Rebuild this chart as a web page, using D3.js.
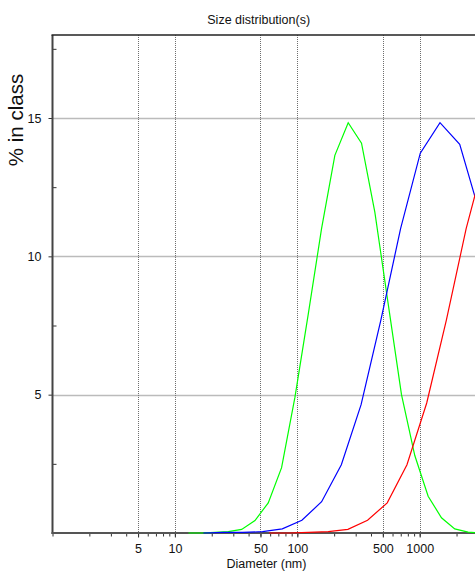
<!DOCTYPE html>
<html>
<head>
<meta charset="utf-8">
<script src="https://cdn.jsdelivr.net/npm/d3@7"></script>
<style>
  html, body { margin: 0; padding: 0; background: #fff; }
  svg { display: block; font-family: Arial, "Liberation Sans", sans-serif; }
</style>
</head>
<body>
<svg id="chart" width="475" height="571"></svg>
<script>
// Size classes (nm) and % in class for each measured distribution
const greenSize = [12.9, 16.5, 21.2, 27.3, 35.1, 45.1, 57.9, 74.4, 95.6, 122.8, 157.8, 202.7, 260.5, 334.7, 430, 552, 710, 912, 1172, 1506, 1934, 2485, 3193];
const greenPct  = [0, 0, 0.02, 0.05, 0.13, 0.45, 1.09, 2.36, 4.9, 7.9, 11.0, 13.65, 14.83, 14.09, 11.6, 8.3, 5.0, 2.8, 1.33, 0.55, 0.15, 0.03, 0];

const blueSize = [17.1, 24.8, 35.9, 52.0, 75.4, 109, 158, 229, 332, 482, 698, 1011, 1465, 2123, 3076, 4457, 6458];
const bluePct  = [0, 0.02, 0.02, 0.05, 0.15, 0.46, 1.13, 2.47, 4.64, 7.7, 11.0, 13.73, 14.83, 14.05, 11.6, 8.3, 5.0];

const redSize = [58.7, 85, 123, 179, 259, 375, 543, 787, 1141, 1653, 2396, 3471, 5030, 7290];
const redPct  = [0, 0, 0.02, 0.05, 0.13, 0.46, 1.09, 2.47, 4.7, 7.7, 11.0, 13.7, 14.83, 14.05];

// Axis ticks
const xLabelTicks = [5, 10, 50, 100, 500, 1000];
const xGridTicks = [5, 10, 50, 100, 500, 1000, 5000];
const yLabelTicks = [5, 10, 15];
const yMinorTicks = [2.5, 7.5, 12.5, 17.5];

const svg = d3.select("#chart");
const plotLeft = 52.5, plotTop = 35, plotBottom = 533, plotRight = 542.1;

const x = d3.scaleLog().domain([1, 10000]).range([plotLeft, plotRight]);
const y = d3.scaleLinear().domain([0, 18]).range([plotBottom, plotTop]);

// minor decade ticks on the diameter axis
const xMinorTicks = [];
for (let dec = 1; dec < 10000; dec *= 10) {
  for (let m = 1; m < 10; m++) xMinorTicks.push(dec * m);
}

// grid
const grid = svg.append("g");
grid.selectAll("line.v").data(xGridTicks).join("line")
  .attr("x1", d => Math.round(x(d)) + 0.5).attr("x2", d => Math.round(x(d)) + 0.5)
  .attr("y1", plotTop).attr("y2", plotBottom)
  .attr("stroke", "#6e6e6e").attr("stroke-width", 1).attr("stroke-dasharray", "1,1");
grid.selectAll("line.h").data(yLabelTicks).join("line")
  .attr("x1", plotLeft).attr("x2", 475)
  .attr("y1", d => Math.round(y(d)) + 0.5).attr("y2", d => Math.round(y(d)) + 0.5)
  .attr("stroke", "#777").attr("stroke-width", 1.3).attr("stroke-dasharray", "1,1");

// x axis: minor ticks, then labelled ticks
const xMinor = svg.append("g").attr("transform", `translate(0,${plotBottom})`)
  .call(d3.axisBottom(x).tickValues(xMinorTicks).tickSize(3.5).tickFormat(""));
xMinor.select(".domain").remove();
xMinor.selectAll("line").attr("stroke", "#333");

const xAxis = svg.append("g").attr("transform", `translate(0,${plotBottom})`)
  .call(d3.axisBottom(x).tickValues(xLabelTicks).tickSize(4.5).tickPadding(7).tickFormat(d3.format("d")));
xAxis.select(".domain").remove();
xAxis.selectAll("line").attr("stroke", "#333");
xAxis.selectAll("text").attr("font-size", 12.5).attr("fill", "#111")
  .attr("font-family", "Arial, 'Liberation Sans', sans-serif");

// y axis
const yAxis = svg.append("g").attr("transform", `translate(${plotLeft},0)`)
  .call(d3.axisLeft(y).tickValues(yLabelTicks).tickSize(4).tickPadding(7));
yAxis.select(".domain").remove();
yAxis.selectAll("line").attr("stroke", "#333");
yAxis.selectAll("text").attr("font-size", 12.5).attr("fill", "#111")
  .attr("font-family", "Arial, 'Liberation Sans', sans-serif");

const yMinor = svg.append("g").attr("transform", `translate(${plotLeft},0)`)
  .call(d3.axisRight(y).tickValues(yMinorTicks).tickSize(4).tickFormat(""));
yMinor.select(".domain").remove();
yMinor.selectAll("line").attr("stroke", "#333");

// frame: left and bottom axis lines, top border
svg.append("line").attr("x1", plotLeft).attr("x2", plotLeft).attr("y1", plotTop).attr("y2", plotBottom + 1)
  .attr("stroke", "#444").attr("stroke-width", 2);
svg.append("line").attr("x1", plotLeft - 1).attr("x2", 475).attr("y1", plotBottom).attr("y2", plotBottom)
  .attr("stroke", "#555").attr("stroke-width", 2);
svg.append("line").attr("x1", plotLeft - 1).attr("x2", 475).attr("y1", plotTop).attr("y2", plotTop)
  .attr("stroke", "#222").attr("stroke-width", 1.6);

// distribution curves
svg.append("clipPath").attr("id", "plotClip")
  .append("rect").attr("x", plotLeft).attr("y", plotTop)
  .attr("width", plotRight - plotLeft).attr("height", plotBottom - plotTop + 2);

const line = d3.line().x(d => x(d[0])).y(d => y(d[1]));
const series = [
  { size: greenSize, pct: greenPct, color: "#00ff00" },
  { size: blueSize, pct: bluePct, color: "#0000ff" },
  { size: redSize, pct: redPct, color: "#ff0000" }
];
const curves = svg.append("g").attr("clip-path", "url(#plotClip)");
series.forEach(s => {
  curves.append("path")
    .datum(s.size.map((v, i) => [v, s.pct[i]]))
    .attr("d", line)
    .attr("fill", "none")
    .attr("stroke", s.color)
    .attr("stroke-width", 1.2)
    .attr("stroke-linejoin", "miter");
});

// titles
svg.append("text").attr("x", 258.7).attr("y", 24).attr("text-anchor", "middle")
  .attr("font-size", 12.5).attr("fill", "#111").text("Size distribution(s)");
svg.append("text").attr("x", 266.5).attr("y", 567.5).attr("text-anchor", "middle")
  .attr("font-size", 12.5).attr("fill", "#111").text("Diameter (nm)");
svg.append("text").attr("transform", "translate(23,120) rotate(-90)").attr("text-anchor", "middle")
  .attr("font-size", 20.5).attr("fill", "#111").text("% in class");
</script>
</body>
</html>
